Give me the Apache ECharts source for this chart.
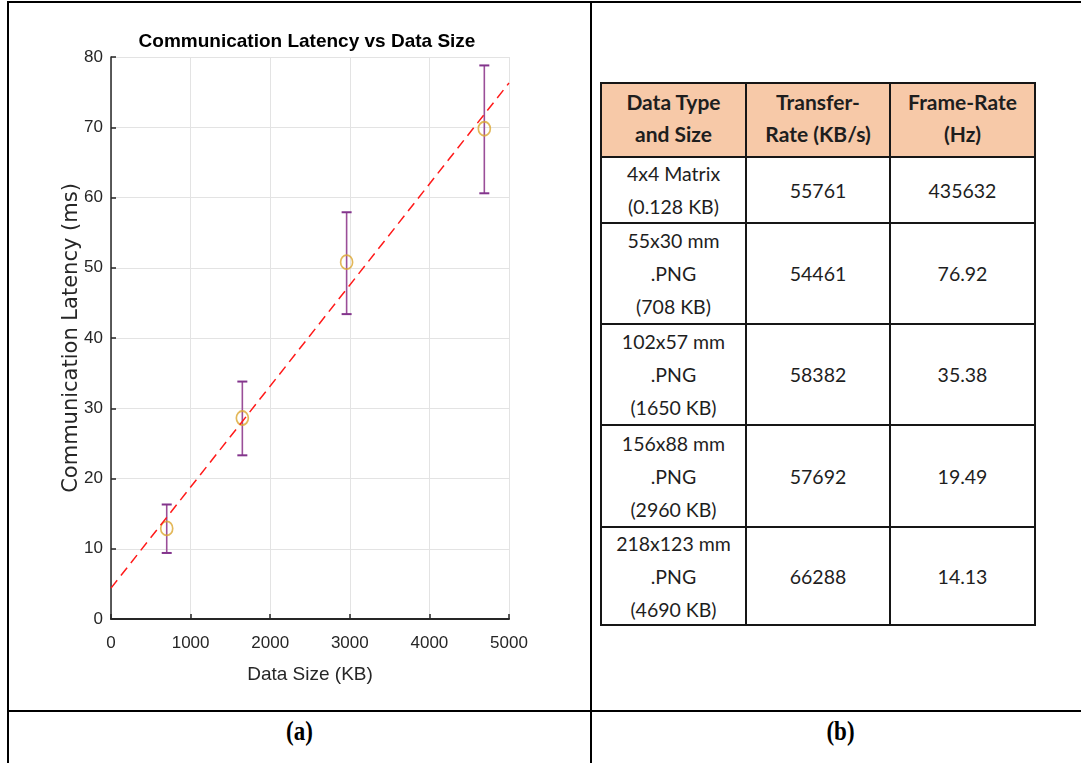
<!DOCTYPE html>
<html>
<head>
<meta charset="utf-8">
<script src="https://cdn.jsdelivr.net/npm/echarts@6/dist/echarts.min.js"></script>
<style>
  html, body { margin: 0; padding: 0; background: #fff; width: 1081px; height: 763px; overflow: hidden; position: relative; }
  .rule { position: absolute; background: #000; }
  #chart { position: absolute; left: 0; top: 0; width: 590px; height: 710px; }
  .cell { position: absolute; box-sizing: border-box; display: flex; align-items: center; justify-content: center;
          text-align: center; font-family: Lato, 'Open Sans', sans-serif; color: #1e1e1e; white-space: pre-line; }
  .cap { position: absolute; top: 712px; height: 40px; display: flex; align-items: center; justify-content: center;
         font-family: 'Liberation Serif', 'DejaVu Serif', serif; font-weight: bold; font-size: 23px; color: #000; }
  .cap span { display: inline-block; transform: scaleY(1.2); }
</style>
</head>
<body>
<div class="rule" style="left:7px;top:1px;width:1082px;height:2px"></div>
<div class="rule" style="left:7px;top:1px;width:2px;height:762px"></div>
<div class="rule" style="left:590px;top:1px;width:2px;height:762px"></div>
<div class="rule" style="left:7px;top:710px;width:1082px;height:2px"></div>
<div id="chart"></div>
<div id="table"></div>
<div id="captions"></div>
<script>
// ---- chart data (a) ----
const dataSizes = [700, 1650, 2960, 4690];          // KB
const latencyMean = [12.9, 28.6, 50.8, 69.8];       // ms
const latencyLow = [9.4, 23.3, 43.4, 60.6];         // ms
const latencyHigh = [16.3, 33.8, 57.9, 78.8];       // ms
const fitSizes = [0, 5000];
const fitLatency = [4.4, 76.3];
const xTicks = [0, 1000, 2000, 3000, 4000, 5000];
const yTicks = [0, 10, 20, 30, 40, 50, 60, 70, 80];

// ---- table data (b) ----
const tableHeader = ['Data Type\nand Size', 'Transfer-\nRate (KB/s)', 'Frame-Rate\n(Hz)'];
const dataTypes = ['4x4 Matrix\n(0.128 KB)', '55x30 mm\n.PNG\n(708 KB)', '102x57 mm\n.PNG\n(1650 KB)', '156x88 mm\n.PNG\n(2960 KB)', '218x123 mm\n.PNG\n(4690 KB)'];
const transferRates = ['55761', '54461', '58382', '57692', '66288'];
const frameRates = ['435632', '76.92', '35.38', '19.49', '14.13'];
const captions = ['(a)', '(b)'];

// ---- table layout ----
(function () {
  const colEdges = [600, 745, 889, 1034];
  const rowEdges = [82, 156, 222, 323, 424, 526, 624];
  const host = document.getElementById('table');
  const rows = [tableHeader].concat(dataTypes.map((d, i) => [d, transferRates[i], frameRates[i]]));
  rows.forEach((row, r) => {
    row.forEach((txt, c) => {
      const d = document.createElement('div');
      d.className = 'cell';
      d.style.left = colEdges[c] + 'px';
      d.style.top = rowEdges[r] + 'px';
      d.style.width = (colEdges[c + 1] - colEdges[c] + 2) + 'px';
      d.style.height = (rowEdges[r + 1] - rowEdges[r] + 2) + 'px';
      d.style.border = '2px solid #161616';
      if (r === 0) {
        d.style.background = '#F7C9A8';
        d.style.fontWeight = 'bold';
        d.style.fontSize = '21px';
        d.style.lineHeight = '32px';
        d.style.paddingBottom = '5px';
      } else {
        d.style.fontSize = '19.5px';
        d.style.lineHeight = '33px';
      }
      d.textContent = txt;
      host.appendChild(d);
    });
  });
  const capHost = document.getElementById('captions');
  const capSpans = [[9, 590], [592, 1089]];
  captions.forEach((t, i) => {
    const d = document.createElement('div');
    d.className = 'cap';
    d.style.left = capSpans[i][0] + 'px';
    d.style.width = (capSpans[i][1] - capSpans[i][0]) + 'px';
    const s = document.createElement('span');
    s.textContent = t;
    d.appendChild(s);
    capHost.appendChild(d);
  });
})();

// ---- chart ----
const chart = echarts.init(document.getElementById('chart'), null, { renderer: 'canvas' });
const sans = "'Liberation Sans', Arial, Helvetica, sans-serif";
const axisColor = '#262626';
const errColor = '#83348C';

chart.setOption({
  animation: false,
  backgroundColor: 'transparent',
  title: {
    text: 'Communication Latency vs Data Size',
    left: 302, top: 27, textAlign: 'center',
    textStyle: { fontFamily: sans, fontWeight: 'bold', fontSize: 19, color: '#000' }
  },
  grid: { left: 111, top: 57, width: 398, height: 562, containLabel: false },
  xAxis: {
    type: 'value', min: xTicks[0], max: xTicks[xTicks.length - 1], interval: 1000,
    name: 'Data Size (KB)', nameLocation: 'middle', nameGap: 46, nameMoveOverlap: false,
    nameTextStyle: { fontFamily: sans, fontSize: 19, color: axisColor },
    axisLine: { show: true, onZero: false, lineStyle: { color: axisColor, width: 2 } },
    axisTick: { show: true, inside: true, length: 5, lineStyle: { color: axisColor, width: 1.5 } },
    axisLabel: { fontFamily: sans, fontSize: 17, color: axisColor, margin: 16, formatter: v => String(v) },
    splitLine: { show: true, lineStyle: { color: '#e3e3e3', width: 1 } }
  },
  yAxis: {
    type: 'value', min: yTicks[0], max: yTicks[yTicks.length - 1], interval: 10,
    name: 'Communication Latency (ms)', nameLocation: 'middle', nameGap: 29, nameRotate: 90, nameMoveOverlap: false,
    nameTextStyle: { fontFamily: "'DejaVu Sans', 'Liberation Sans', sans-serif", fontSize: 21, color: axisColor },
    axisLine: { show: true, onZero: false, lineStyle: { color: axisColor, width: 1.5 } },
    axisTick: { show: true, inside: true, length: 5, lineStyle: { color: axisColor, width: 1.5 } },
    axisLabel: { fontFamily: sans, fontSize: 17, color: axisColor, margin: 8, formatter: v => String(v) },
    splitLine: { show: true, lineStyle: { color: '#e3e3e3', width: 1 } }
  },
  series: [
    {
      type: 'custom',
      name: 'error',
      data: dataSizes.map((x, i) => [x, latencyLow[i], latencyHigh[i]]),
      encode: { x: 0, y: [1, 2] },
      renderItem: function (params, api) {
        const x = api.value(0);
        const pLo = api.coord([x, api.value(1)]);
        const pHi = api.coord([x, api.value(2)]);
        const w = 5;
        return {
          type: 'group',
          children: [
            { type: 'line', shape: { x1: pLo[0], y1: pLo[1], x2: pHi[0], y2: pHi[1] }, style: { stroke: '#9A4E98', lineWidth: 1.6 } },
            { type: 'line', shape: { x1: pLo[0] - w, y1: pLo[1], x2: pLo[0] + w, y2: pLo[1] }, style: { stroke: errColor, lineWidth: 2 } },
            { type: 'line', shape: { x1: pHi[0] - w, y1: pHi[1], x2: pHi[0] + w, y2: pHi[1] }, style: { stroke: errColor, lineWidth: 2 } }
          ]
        };
      },
      z: 2
    },
    {
      type: 'scatter',
      name: 'mean',
      data: dataSizes.map((x, i) => [x, latencyMean[i]]),
      symbol: 'circle',
      symbolSize: [12, 14],
      itemStyle: { color: 'rgba(0,0,0,0)', borderColor: '#DCA631', borderWidth: 1.8 },
      z: 3
    },
    {
      type: 'line',
      name: 'fit',
      data: fitSizes.map((x, i) => [x, fitLatency[i]]),
      showSymbol: false, symbol: 'none',
      lineStyle: { color: '#FF1A1A', width: 1.5, type: [10, 6] },
      z: 4
    }
  ]
});
</script>
</body>
</html>
